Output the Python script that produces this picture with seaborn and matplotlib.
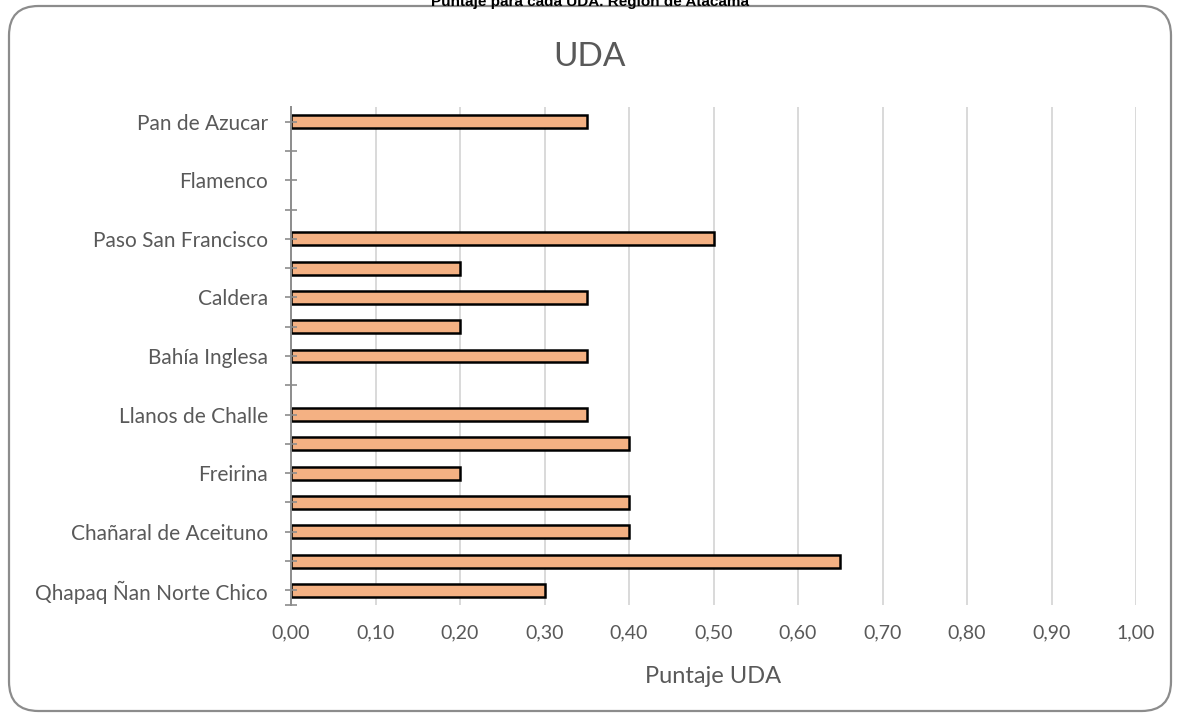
import numpy as np
import pandas as pd
import matplotlib
matplotlib.use("Agg")
import matplotlib.pyplot as plt
from matplotlib.patches import FancyBboxPatch
import seaborn as sns

# Areas listed bottom-to-top as they appear on the axis
areas = [
    "Qhapaq Ñan Norte Chico", "UDA 15", "Chañaral de Aceituno", "UDA 13",
    "Freirina", "UDA 11", "Llanos de Challe", "UDA 9", "Bahía Inglesa",
    "UDA 7", "Caldera", "UDA 5", "Paso San Francisco", "UDA 3",
    "Flamenco", "UDA 1", "Pan de Azucar",
]
# Every other area carries a visible label
shown_labels = [
    "Qhapaq Ñan Norte Chico", "", "Chañaral de Aceituno", "",
    "Freirina", "", "Llanos de Challe", "", "Bahía Inglesa",
    "", "Caldera", "", "Paso San Francisco", "",
    "Flamenco", "", "Pan de Azucar",
]
scores = [0.30, 0.65, 0.40, 0.40, 0.20, 0.40, 0.35, np.nan, 0.35,
          0.20, 0.35, 0.20, 0.50, np.nan, np.nan, np.nan, 0.35]
x_ticks = [0.0, 0.1, 0.2, 0.3, 0.4, 0.5, 0.6, 0.7, 0.8, 0.9, 1.0]

# Top of the axis is the last area, so reverse for seaborn's top-down order
order = areas[::-1]
df = pd.DataFrame({"area": areas, "score": scores})

sns.set_theme(style="white")
plt.rcParams["font.family"] = ["Lato", "DejaVu Sans"]

W, H = 1180, 719
fig = plt.figure(figsize=(W / 100, H / 100), dpi=100)

# Rounded chart frame
frame = FancyBboxPatch((9 / W, 8 / H), (1171 - 9) / W, (713 - 8) / H,
                       boxstyle="round,pad=0,rounding_size=0.025",
                       transform=fig.transFigure, facecolor="white",
                       edgecolor="#8c8c8c", linewidth=1.6, zorder=-5,
                       mutation_aspect=W / H)
fig.patches.append(frame)

ax = fig.add_axes([291 / W, 1 - 605 / H, (1136 - 291) / W, (605 - 107) / H])
ax.set_zorder(5)
ax.set_facecolor("none")

# Vertical gridlines sit behind the bars; the axis ticks stay on top
for xv in x_ticks[1:]:
    ax.axvline(xv, color="#d9d9d9", linewidth=1.4, zorder=0)

sns.barplot(data=df, y="area", x="score", order=order, orient="h",
            color="#F4B183", saturation=1, width=0.44,
            edgecolor="black", linewidth=1.8, ax=ax, zorder=1)

ax.set_xlim(0, 1.0)
ax.set_ylim(len(order) - 0.5, -0.5)
ax.set_xticks(x_ticks)
ax.set_xticklabels([f"{v:.2f}".replace(".", ",") for v in x_ticks],
                   color="#595959", fontsize=14)
ax.grid(False)
ax.set_axisbelow(False)
ax.tick_params(axis="x", length=0, pad=14)

ax.set_yticks(range(len(order)))
ax.set_yticklabels(shown_labels[::-1], color="#595959", fontsize=15)
ax.set_yticks([len(order) - 0.5], minor=True)
ax.tick_params(axis="y", which="both", left=True, direction="inout",
               length=9, width=1.2, color="#8c8c8c", pad=12)

for side in ["top", "right", "bottom"]:
    ax.spines[side].set_visible(False)
ax.spines["left"].set_color("#8c8c8c")
ax.spines["left"].set_linewidth(1.4)

ax.set_xlabel("Puntaje UDA", color="#595959", fontsize=17, labelpad=18)
ax.set_ylabel("")

fig.text(0.5, 1 - 57 / H, "UDA", ha="center", va="center",
         color="#595959", fontsize=24)
fig.text(0.5, 1 - 2 / H, "Puntaje para cada UDA. Región de Atacama",
         ha="center", va="center", color="black", fontsize=11,
         fontweight="bold", family=["Liberation Sans", "DejaVu Sans"])

fig.savefig("out.png", dpi=100)
